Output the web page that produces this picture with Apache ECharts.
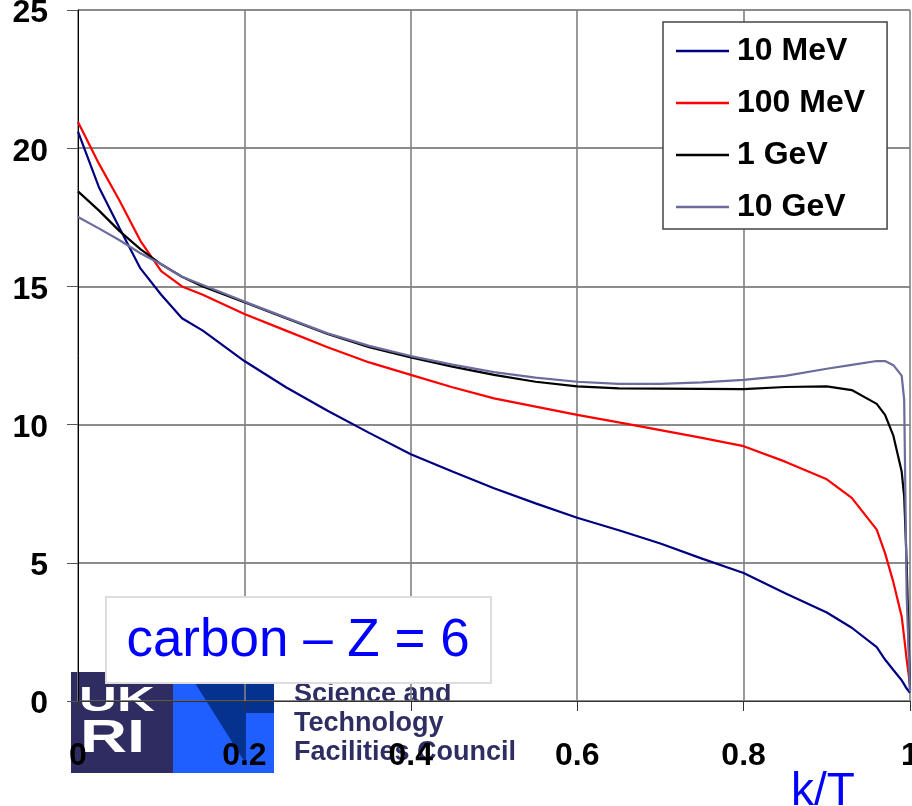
<!DOCTYPE html>
<html>
<head>
<meta charset="utf-8">
<script src="https://cdn.jsdelivr.net/npm/echarts@6/dist/echarts.min.js"></script>
<style>
  html, body { margin: 0; padding: 0; background: #fff; }
  #chart { width: 912px; height: 806px; }
</style>
</head>
<body>
<div id="chart"></div>
<script>
// k/T positions shared by all curves
const kT = [0, 0.025, 0.05, 0.075, 0.1, 0.125, 0.15, 0.2, 0.25, 0.3, 0.35, 0.4, 0.45, 0.5, 0.55, 0.6,
  0.65, 0.7, 0.75, 0.8, 0.85, 0.9, 0.93, 0.96, 0.97, 0.98, 0.99, 0.993, 0.996, 1];

const mev10 = [20.6, 18.6, 17.1, 15.65, 14.7, 13.85, 13.4, 12.3, 11.35, 10.5, 9.7, 8.93, 8.3, 7.7, 7.15, 6.63,
  6.18, 5.7, 5.15, 4.63, 3.9, 3.2, 2.65, 1.95, 1.5, 1.12, 0.75, 0.6, 0.45, 0.3];
const mev100 = [20.95, 19.45, 18.1, 16.65, 15.55, 15.0, 14.7, 14.0, 13.4, 12.8, 12.25, 11.8, 11.35, 10.95, 10.65, 10.35,
  10.08, 9.8, 9.52, 9.22, 8.66, 8.02, 7.35, 6.2, 5.35, 4.3, 3.06, 2.3, 1.5, 0.58];
const gev1 = [18.44, 17.75, 17.0, 16.35, 15.8, 15.35, 15.0, 14.43, 13.85, 13.28, 12.8, 12.43, 12.1, 11.8, 11.55, 11.38,
  11.31, 11.3, 11.29, 11.28, 11.36, 11.38, 11.25, 10.75, 10.35, 9.6, 8.3, 7.4, 5.0, 0.4];
const gev10 = [17.51, 17.1, 16.67, 16.2, 15.8, 15.35, 15.05, 14.45, 13.87, 13.3, 12.85, 12.48, 12.17, 11.9, 11.7, 11.55,
  11.47, 11.47, 11.53, 11.62, 11.76, 12.02, 12.16, 12.3, 12.3, 12.15, 11.77, 10.9, 3.8, 0.34];

const names = ['10 MeV', '100 MeV', '1 GeV', '10 GeV'];
const colors = ['#000080', '#ff0000', '#000000', '#6b6b9e'];

const font = 'Liberation Sans, Arial, sans-serif';

function pairs (ys) {
  return kT.map(function (k, i) { return [k, ys[i]]; });
}

const chart = echarts.init(document.getElementById('chart'));

const series = [mev10, mev100, gev1, gev10].map(function (ys, i) {
  return {
    name: names[i],
    type: 'line',
    data: pairs(ys),
    symbol: 'none',
    z: 5,
    lineStyle: { color: colors[i], width: 2.2 },
    itemStyle: { color: colors[i] }
  };
});

chart.setOption({
  animation: false,
  backgroundColor: '#fff',
  grid: { left: 78, right: 2, top: 10, bottom: 105, containLabel: false, outerBoundsMode: 'none' },
  xAxis: {
    type: 'value',
    min: 0,
    max: 1,
    interval: 0.2,
    axisLine: { lineStyle: { color: '#333', width: 1 } },
    axisTick: { show: true, inside: false, length: 10, lineStyle: { color: '#333' } },
    axisLabel: {
      margin: 39,
      color: '#000',
      fontFamily: font,
      fontWeight: 'bold',
      fontSize: 32,
      hideOverlap: false,
      formatter: function (v) { return String(Math.round(v * 10) / 10); }
    },
    splitLine: { show: true, lineStyle: { color: '#808080', width: 1.6 } }
  },
  yAxis: {
    type: 'value',
    min: 0,
    max: 25,
    interval: 5,
    axisLine: { show: true, lineStyle: { color: '#000', width: 1 } },
    axisTick: { show: true, inside: false, length: 11, lineStyle: { color: '#555' } },
    axisLabel: {
      margin: 30,
      formatter: function (v) { return '{t|' + v + '}'; },
      rich: {
        t: {
          color: '#000',
          fontFamily: font,
          fontWeight: 'bold',
          fontSize: 32,
          padding: [7, 0, 0, 0]
        }
      }
    },
    splitLine: { show: true, lineStyle: { color: '#666', width: 1.6 } }
  },
  legend: {
    orient: 'vertical',
    left: 663,
    top: 22,
    padding: [13, 22, 6, 13],
    icon: 'rect',
    itemWidth: 53,
    itemHeight: 2.5,
    itemGap: 20,
    backgroundColor: '#fff',
    borderColor: '#444',
    borderWidth: 1.5,
    data: names,
    textStyle: {
      color: '#000',
      fontFamily: font,
      fontWeight: 'bold',
      fontSize: 32,
      lineHeight: 32,
      padding: [0, 0, 0, 3]
    }
  },
  graphic: [
    // logo block, kept under the axes
    { type: 'rect', z: -1, shape: { x: 71, y: 672, width: 102, height: 101 }, style: { fill: '#2e2c60' } },
    { type: 'rect', z: -1, shape: { x: 173, y: 672, width: 101, height: 101 }, style: { fill: '#1f5eff' } },
    { type: 'polygon', z: -1, shape: { points: [[188, 672], [274, 672], [274, 713], [246, 713], [246, 764]] }, style: { fill: '#05318f' } },
    { type: 'text', z: -1, x: 79, y: 683, scaleX: 1.25, scaleY: 0.85, style: { text: 'UK', fill: '#fff', font: 'bold 42px Liberation Sans' } },
    { type: 'text', z: -1, x: 80, y: 716, scaleX: 1.55, scaleY: 1.1, style: { text: 'RI', fill: '#fff', font: 'bold 42px Liberation Sans' } },
    { type: 'text', z: -1, left: 294, top: 680, style: { text: 'Science and\nTechnology\nFacilities Council', fill: '#2f2e63', font: 'bold 27px Liberation Sans', lineHeight: 29 } },
    // annotation box
    { type: 'rect', z: 10, shape: { x: 106, y: 597, width: 385, height: 86 }, style: { fill: '#fff', stroke: '#dddddd', lineWidth: 2 } },
    { type: 'text', z: 11, x: 298, y: 641, style: { text: 'carbon \u2013 Z = 6', fill: '#0000ff', font: '53px Liberation Sans', textAlign: 'center', textVerticalAlign: 'middle' } },
    { type: 'text', z: 11, x: 823, y: 792, style: { text: 'k/T', fill: '#0000ff', font: '46px Liberation Sans', textAlign: 'center', textVerticalAlign: 'middle' } }
  ],
  series: series
});
</script>
</body>
</html>
